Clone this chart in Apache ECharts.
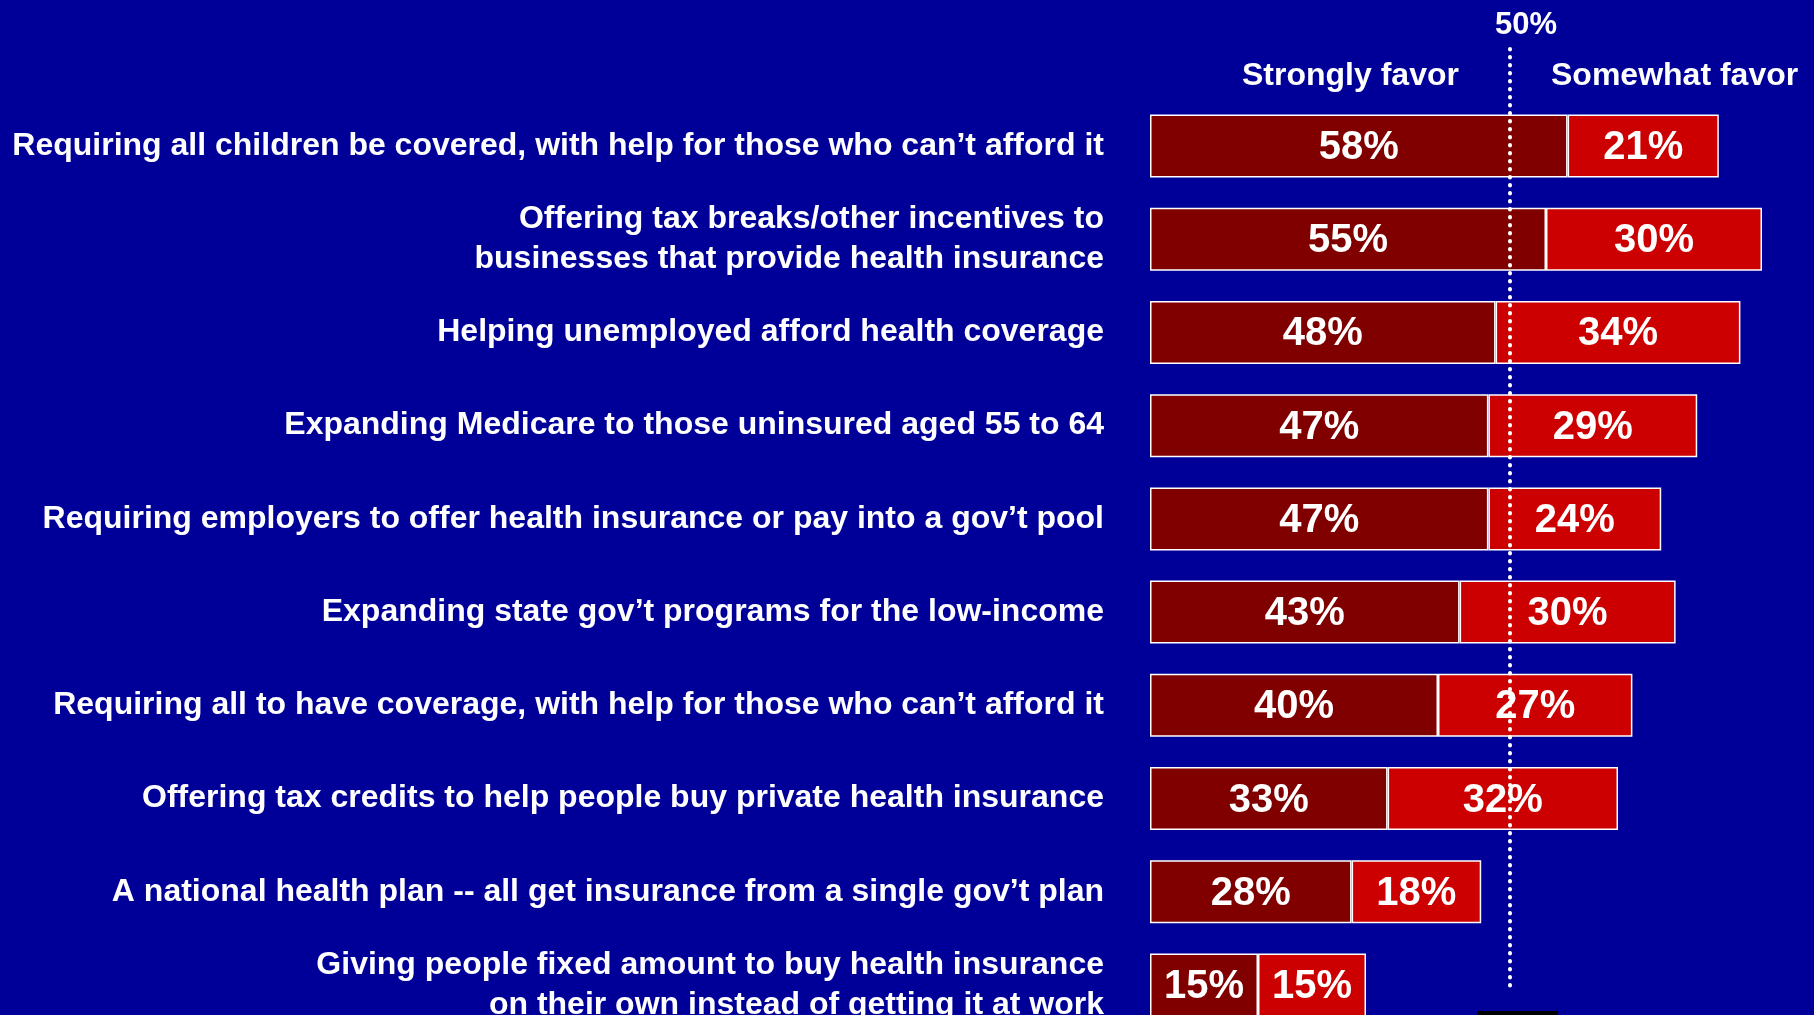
<!DOCTYPE html>
<html>
<head>
<meta charset="utf-8">
<title>Health coverage proposals</title>
<script src="https://cdn.jsdelivr.net/npm/echarts@6/dist/echarts.min.js"></script>
<style>
    html, body { margin: 0; padding: 0; background: #000099; }
    #main { width: 1814px; height: 1015px; }
</style>
</head>
<body>
<div id="main"></div>
<script>
var categories = [
    'Requiring all children be covered, with help for those who can\u2019t afford it',
    'Offering tax breaks/other incentives to\nbusinesses that provide health insurance',
    'Helping unemployed afford health coverage',
    'Expanding Medicare to those uninsured aged 55 to 64',
    'Requiring employers to offer health insurance or pay into a gov\u2019t pool',
    'Expanding state gov\u2019t programs for the low-income',
    'Requiring all to have coverage, with help for those who can\u2019t afford it',
    'Offering tax credits to help people buy private health insurance',
    'A national health plan -- all get insurance from a single gov\u2019t plan',
    'Giving people fixed amount to buy health insurance\non their own instead of getting it at work'
];
var stronglyFavor = [58, 55, 48, 47, 47, 43, 40, 33, 28, 15];
var somewhatFavor = [21, 30, 34, 29, 24, 30, 27, 32, 18, 15];
var refLine = [[50, 1], [50, 0]];

var font = 'Liberation Sans, Arial, sans-serif';
var myChart = echarts.init(document.getElementById('main'));

var barLabel = {
    show: true,
    position: 'inside',
    formatter: '{c}%',
    color: '#fff',
    fontSize: 40,
    fontWeight: 'bold',
    fontFamily: font,
    offset: [0, 2]
};

var option = {
    backgroundColor: '#000099',
    animation: false,
    title: [
        {
            text: 'Strongly favor', left: 1242, top: 60, padding: 0,
            textStyle: { color: '#fff', fontSize: 32, fontWeight: 'bold', fontFamily: font }
        },
        {
            text: 'Somewhat favor', left: 1551, top: 60, padding: 0,
            textStyle: { color: '#fff', fontSize: 32, fontWeight: 'bold', fontFamily: font }
        }
    ],
    // little black strip at the bottom edge of the slide
    graphic: [
        { type: 'rect', shape: { x: 1477, y: 1011, width: 81, height: 4 }, style: { fill: '#000' } }
    ],
    grid: [
        // rows sit on the ticks (boundaryGap false), first at y=146, 93.2px apart
        { left: 1150, top: 146, width: 648, height: 839, outerBoundsMode: 'none' },
        { left: 1150, top: 49, width: 648, height: 940, outerBoundsMode: 'none' }
    ],
    xAxis: [
        { type: 'value', gridIndex: 0, min: 0, max: 90, show: false },
        { type: 'value', gridIndex: 1, min: 0, max: 90, show: false }
    ],
    yAxis: [
        {
            type: 'category',
            gridIndex: 0,
            inverse: true,
            boundaryGap: false,
            data: categories,
            axisLine: { show: false },
            axisTick: { show: false },
            splitLine: { show: false },
            axisLabel: {
                color: '#fff',
                fontSize: 32,
                fontWeight: 'bold',
                fontFamily: font,
                margin: 46,
                lineHeight: 40
            }
        },
        { type: 'value', gridIndex: 1, min: 0, max: 1, show: false }
    ],
    series: [
        {
            name: 'Strongly favor',
            type: 'bar',
            stack: 'favor',
            barWidth: 63,
            data: stronglyFavor,
            itemStyle: { color: '#800000', borderColor: '#fff', borderWidth: 1.5 },
            label: barLabel
        },
        {
            name: 'Somewhat favor',
            type: 'bar',
            stack: 'favor',
            barWidth: 63,
            data: somewhatFavor,
            itemStyle: { color: '#cc0000', borderColor: '#fff', borderWidth: 1.5 },
            label: barLabel
        },
        {
            // 50% reference line
            type: 'line',
            xAxisIndex: 1,
            yAxisIndex: 1,
            data: refLine,
            symbol: 'circle',
            symbolSize: 0,
            showSymbol: true,
            z: 5,
            lineStyle: { color: '#fff', width: 4, type: [0.5, 7.5], cap: 'round' },
            label: {
                show: true,
                position: 'top',
                distance: 8,
                offset: [16, 0],
                formatter: function (p) { return p.dataIndex === 0 ? '50%' : ''; },
                color: '#fff',
                fontSize: 31,
                fontWeight: 'bold',
                fontFamily: font
            }
        }
    ]
};
myChart.setOption(option);
</script>
</body>
</html>
